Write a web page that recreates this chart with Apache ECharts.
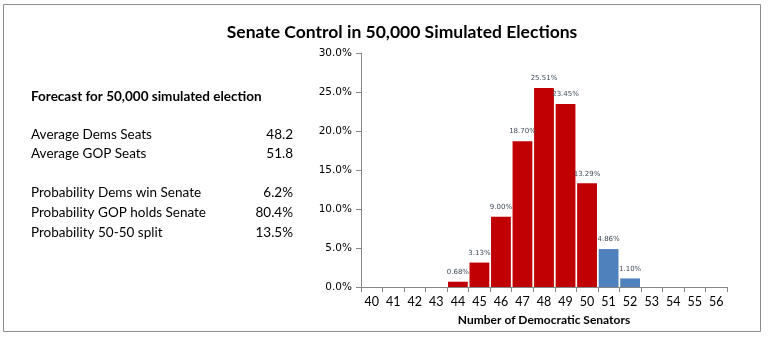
<!DOCTYPE html>
<html>
<head>
<meta charset="utf-8">
<script src="https://cdn.jsdelivr.net/npm/echarts@6/dist/echarts.min.js"></script>
<style>
  html, body { margin: 0; padding: 0; background: #fff; }
  #chart { width: 770px; height: 338px; }
</style>
</head>
<body>
<div id="chart"></div>
<script>
// Number of Democratic senators and the share of simulations ending there (%)
const seats = ['40','41','42','43','44','45','46','47','48','49','50','51','52','53','54','55','56'];
const shares = [0, 0, 0, 0, 0.68, 3.13, 9.00, 18.70, 25.51, 23.45, 13.29, 4.86, 1.10, 0, 0, 0, 0];
const yTicks = [0, 5, 10, 15, 20, 25, 30];

// Summary table shown beside the histogram
const summaryHeading = 'Forecast for 50,000 simulated election';
const summaryLabels = ['Average Dems Seats', 'Average GOP Seats', '', 'Probability Dems win Senate', 'Probability GOP holds Senate', 'Probability 50-50 split'];
const summaryValues = ['48.2', '51.8', '', '6.2%', '80.4%', '13.5%'];

const RED = '#C00000';
const BLUE = '#4F81BD';
const MAJORITY = 51;

const chart = echarts.init(document.getElementById('chart'), null, { renderer: 'canvas' });

const rowY = [135, 154, 174, 193, 213, 233];
const graphics = [
  { type: 'rect', shape: { x: 3.5, y: 4.5, width: 757, height: 327 },
    style: { fill: 'none', stroke: '#8c8c8c', lineWidth: 1 }, silent: true },
  { type: 'text', x: 31, y: 97,
    style: { text: summaryHeading, font: 'bold 13.5px Lato, "Liberation Sans", sans-serif', fill: '#000', verticalAlign: 'middle' } }
];
summaryLabels.forEach((lab, i) => {
  if (!lab) return;
  graphics.push({ type: 'text', x: 31, y: rowY[i],
    style: { text: lab, font: '13.5px Lato, "Liberation Sans", sans-serif', fill: '#000', verticalAlign: 'middle' } });
  graphics.push({ type: 'text', x: 293, y: rowY[i],
    style: { text: summaryValues[i], font: '13.5px Lato, "Liberation Sans", sans-serif', fill: '#000', align: 'right', verticalAlign: 'middle' } });
});

chart.setOption({
  animation: false,
  title: {
    text: 'Senate Control in 50,000 Simulated Elections',
    left: 397, top: 18, textAlign: 'center',
    textStyle: { fontFamily: 'Lato, "Liberation Sans", sans-serif', fontWeight: 'bold', fontSize: 17.5, color: '#000' }
  },
  graphic: graphics,
  grid: { left: 361, right: 43, top: 53, bottom: 51 },
  xAxis: {
    type: 'category',
    data: seats,
    name: 'Number of Democratic Senators',
    nameLocation: 'middle',
    nameGap: 27,
    nameTextStyle: { fontFamily: 'Lato, "Liberation Sans", sans-serif', fontWeight: 'bold', fontSize: 12, color: '#000' },
    axisLine: { lineStyle: { color: '#868686' } },
    axisTick: { show: true, alignWithLabel: false, length: 5, lineStyle: { color: '#868686' } },
    axisLabel: { fontFamily: 'Lato, "Liberation Sans", sans-serif', fontSize: 12.5, color: '#000', margin: 8, interval: 0 }
  },
  yAxis: {
    type: 'value',
    min: yTicks[0],
    max: yTicks[yTicks.length - 1],
    interval: yTicks[1] - yTicks[0],
    axisLine: { show: true, lineStyle: { color: '#868686' } },
    axisTick: { show: true, length: 5, lineStyle: { color: '#868686' } },
    splitLine: { show: false },
    axisLabel: {
      fontFamily: '"DejaVu Sans", Verdana, sans-serif', fontSize: 10.5, color: '#000', margin: 9,
      formatter: v => v.toFixed(1) + '%'
    }
  },
  series: [{
    type: 'bar',
    data: shares.map((v, i) => ({
      value: v,
      itemStyle: { color: Number(seats[i]) >= MAJORITY ? BLUE : RED },
      label: { show: v > 0 }
    })),
    barCategoryGap: '8%',
    label: {
      position: 'top',
      distance: 6,
      fontFamily: '"DejaVu Sans", Verdana, sans-serif',
      fontSize: 7,
      color: '#3f4a58',
      formatter: p => p.value.toFixed(2) + '%'
    }
  }]
});
</script>
</body>
</html>
